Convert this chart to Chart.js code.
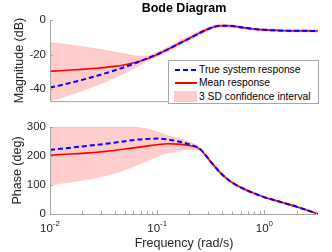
<!DOCTYPE html>
<html lang="en">
<head>
<meta charset="UTF-8">
<title>Bode Diagram</title>
<style>
  body { margin: 0; background: #fff; }
  #wrap { position: relative; width: 332px; height: 252px; overflow: hidden; font-family: "Liberation Sans", Arial, sans-serif; }
  canvas { position: absolute; left: 0; }
  #legend { position: absolute; left: 168px; top: 60px; width: 149px; height: 42px; border: 1px solid #a6a6a6; background: #fff; }
  .row { position: absolute; left: 0; width: 149px; height: 14px; }
  .row span { position: absolute; left: 30px; top: 0; font-size: 10.3px; line-height: 14px; color: #000; white-space: nowrap; }
  .dash { position: absolute; left: 6px; top: 6px; width: 22px; height: 2px; background: repeating-linear-gradient(to right, #0000ff 0 5px, transparent 5px 8px); }
  .solid { position: absolute; left: 6px; top: 6px; width: 22px; height: 2px; background: #ff0000; }
  .patch { position: absolute; left: 5px; top: 1px; width: 23px; height: 11px; background: #ffcccc; }
</style>
</head>
<body>
<div id="wrap">
  <canvas id="magChart" width="332" height="112" style="top:0"></canvas>
  <canvas id="phaseChart" width="332" height="140" style="top:112px"></canvas>
  <div id="legend">
    <div class="row" style="top:2px"><div class="dash"></div><span>True system response</span></div>
    <div class="row" style="top:15px"><div class="solid"></div><span>Mean response</span></div>
    <div class="row" style="top:29px"><div class="patch"></div><span>3 SD confidence interval</span></div>
  </div>
</div>

<script src="https://cdn.jsdelivr.net/npm/chart.js"></script>
<script>
// frequencies (rad/s), read along the log axis
const freq = [0.01, 0.0126, 0.0158, 0.02, 0.0251, 0.0316, 0.0398, 0.0501, 0.0631, 0.0794,
              0.1, 0.126, 0.158, 0.2, 0.251, 0.316, 0.398, 0.501, 0.631, 0.794,
              1, 1.26, 1.58, 2, 2.51, 3.16];

// magnitude (dB)
const trueMag  = [-39.1, -37.8, -36.3, -34.7, -33.0, -31.2, -29.3, -27.2, -24.9, -22.4,
                  -19.9, -17.0, -13.8, -10.6, -7.4, -4.6, -3.3, -3.5, -4.4, -5.2,
                  -5.7, -6.0, -6.2, -6.3, -6.3, -6.4];
const meanMag  = [-29.7, -29.4, -29.0, -28.6, -28.1, -27.6, -26.9, -25.9, -24.5, -22.6,
                  -20.0, -17.0, -13.8, -10.6, -7.4, -4.6, -3.3, -3.5, -4.4, -5.2,
                  -5.7, -6.0, -6.2, -6.3, -6.3, -6.4];
const upperMag = [-13.0, -13.8, -14.6, -15.5, -16.4, -17.4, -18.5, -19.6, -20.8, -21.0,
                  -18.6, -15.6, -12.4, -9.3, -6.2, -3.6, -2.4, -2.7, -3.7, -4.5,
                  -5.0, -5.3, -5.5, -5.6, -5.6, -5.7];
const lowerMag = [-47.0, -45.2, -43.2, -41.0, -38.7, -36.3, -33.6, -30.8, -27.6, -24.0,
                  -21.3, -18.4, -15.2, -11.9, -8.6, -5.6, -4.2, -4.3, -5.1, -5.9,
                  -6.4, -6.7, -6.9, -7.0, -7.0, -7.1];

// phase (deg)
const truePhase  = [221, 225, 229, 233, 237, 241, 246, 251, 256, 259,
                    260, 257, 250, 240, 224, 180, 138, 108, 88, 72,
                    58, 47, 36, 25, 13, 0];
const meanPhase  = [203, 205, 207, 209, 212, 215, 219, 224, 229, 234,
                    239, 242, 241, 236, 223, 180, 138, 108, 88, 72,
                    58, 47, 36, 25, 13, 0];
const upperPhase = [300, 300, 300, 300, 300, 300, 300, 300, 299, 294,
                    283, 270, 262, 248, 229, 186, 144, 113, 92, 76,
                    61, 50, 39, 28, 16, 3];
const lowerPhase = [100, 105, 110, 116, 122, 130, 140, 152, 167, 182,
                    198, 210, 216, 222, 218, 174, 132, 103, 84, 68,
                    55, 44, 33, 22, 10, -3];

const magTicks = [-40, -20, 0];
const phaseTicks = [0, 100, 200, 300];
const freqTicks = [0.01, 0.1, 1];
const freqTickExp = ['-2', '-1', '0'];

const FONT = '"Liberation Sans", Arial, sans-serif';
const axisGray = '#a6a6a6';
const textCol = '#262626';

function pts(arr) {
    return arr.map((v, i) => ({ x: freq[i], y: v }));
}

function makeSets(t, m, u, l) {
    return [
        { data: pts(t), borderColor: '#0000ff', borderWidth: 2, borderDash: [5, 3], pointRadius: 0, cubicInterpolationMode: 'monotone', fill: false },
        { data: pts(m), borderColor: '#ff0000', borderWidth: 1.6, pointRadius: 0, cubicInterpolationMode: 'monotone', fill: false },
        { data: pts(u), borderColor: 'rgba(255,130,130,0.35)', borderWidth: 0.8, pointRadius: 0, cubicInterpolationMode: 'monotone', fill: '+1', backgroundColor: '#ffcccc' },
        { data: pts(l), borderColor: 'rgba(255,130,130,0.35)', borderWidth: 0.8, pointRadius: 0, cubicInterpolationMode: 'monotone', fill: false }
    ];
}

// axis lines, inward ticks (MATLAB style) and 10^n labels
function axesPlugin(drawXTicks, drawXLabels) {
    return {
        id: 'matAxes',
        afterDraw(chart) {
            const ctx = chart.ctx, a = chart.chartArea;
            const xs = chart.scales.x, ys = chart.scales.y;
            ctx.save();
            ctx.strokeStyle = axisGray;
            ctx.lineWidth = 1;
            ctx.beginPath();
            ctx.moveTo(a.left + 0.5, a.top);
            ctx.lineTo(a.left + 0.5, a.bottom + 0.5);
            ctx.lineTo(a.right, a.bottom + 0.5);
            ys.ticks.forEach(t => {
                const py = Math.round(ys.getPixelForValue(t.value)) + 0.5;
                ctx.moveTo(a.left, py);
                ctx.lineTo(a.left + 3, py);
            });
            if (drawXTicks) {
                xs.ticks.forEach(t => {
                    const lg = Math.log10(t.value);
                    const mant = t.value / Math.pow(10, Math.floor(lg + 1e-9));
                    if (Math.abs(mant - Math.round(mant)) > 1e-6) return;
                    const major = Math.abs(lg - Math.round(lg)) < 1e-6;
                    const px = Math.round(xs.getPixelForValue(t.value)) + 0.5;
                    ctx.moveTo(px, a.bottom);
                    ctx.lineTo(px, a.bottom - (major ? 4 : 2.5));
                });
            }
            ctx.stroke();

            if (drawXLabels) {
                ctx.fillStyle = textCol;
                ctx.textBaseline = 'alphabetic';
                ctx.textAlign = 'left';
                freqTicks.forEach((v, i) => {
                    const px = xs.getPixelForValue(v);
                    ctx.font = '11.5px ' + FONT;
                    const w1 = ctx.measureText('10').width;
                    ctx.font = '8px ' + FONT;
                    const w2 = ctx.measureText(freqTickExp[i]).width;
                    const x0 = px - (w1 + w2) / 2;
                    ctx.font = '11.5px ' + FONT;
                    ctx.fillText('10', x0, a.bottom + 18);
                    ctx.font = '8px ' + FONT;
                    ctx.fillText(freqTickExp[i], x0 + w1, a.bottom + 12);
                });
            }
            ctx.restore();
        }
    };
}

function yScale(min, max, tickArr, label, titlePad) {
    return {
        type: 'linear', position: 'left', min: min, max: max,
        afterBuildTicks: s => { s.ticks = tickArr.map(v => ({ value: v })); },
        afterFit: s => { s.width = 50; },
        grid: { display: false, drawTicks: false },
        border: { display: false },
        ticks: { padding: 4, color: textCol, font: { family: FONT, size: 11.5 }, callback: v => String(v) },
        title: { display: true, text: label, color: textCol, font: { family: FONT, size: 12.5 }, padding: { top: titlePad, bottom: 0 } }
    };
}

function xScale(height, showTitle) {
    return {
        type: 'logarithmic', position: 'bottom', min: 0.01, max: 3.16,
        afterFit: s => { s.height = height; },
        grid: { display: false, drawTicks: false },
        border: { display: false },
        ticks: { display: false },
        title: { display: showTitle, text: 'Frequency (rad/s)', color: textCol, font: { family: FONT, size: 12.5 }, padding: { top: 0, bottom: 1 } }
    };
}

const common = {
    responsive: false,
    animation: false,
    events: [],
    devicePixelRatio: 1
};

let v_mag = new Chart(document.getElementById('magChart'), {
    type: 'line',
    data: { datasets: makeSets(trueMag, meanMag, upperMag, lowerMag) },
    options: Object.assign({}, common, {
        layout: { padding: { left: 0, right: 14, top: 0, bottom: 0 } },
        plugins: {
            legend: { display: false },
            tooltip: { enabled: false },
            title: {
                display: true, text: 'Bode Diagram', color: '#000', fullSize: false,
                font: { family: FONT, size: 12.5, weight: 'bold' },
                padding: { top: 1, bottom: 4 }
            }
        },
        scales: {
            x: xScale(5, false),
            y: yScale(-47, 0, magTicks, 'Magnitude (dB)', 12.5)
        }
    }),
    plugins: [axesPlugin(false, false)]
});

let v_phase = new Chart(document.getElementById('phaseChart'), {
    type: 'line',
    data: { datasets: makeSets(truePhase, meanPhase, upperPhase, lowerPhase) },
    options: Object.assign({}, common, {
        layout: { padding: { left: 0, right: 14, top: 15, bottom: 0 } },
        plugins: {
            legend: { display: false },
            tooltip: { enabled: false }
        },
        scales: {
            x: xScale(38, true),
            y: yScale(0, 300, phaseTicks, 'Phase (deg)', 10)
        }
    }),
    plugins: [axesPlugin(true, true)]
});
</script>
</body>
</html>
